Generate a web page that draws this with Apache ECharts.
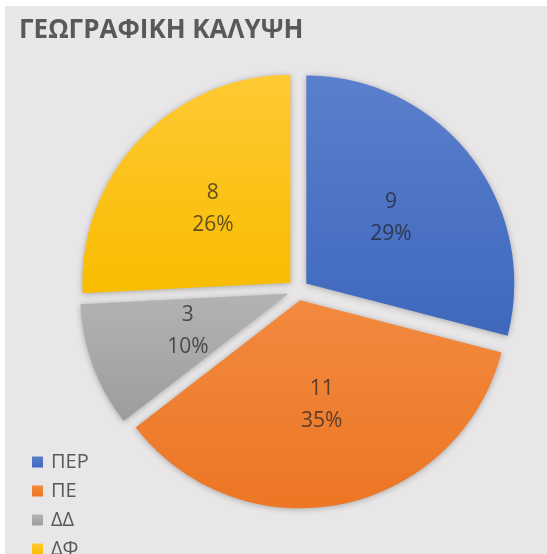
<!DOCTYPE html>
<html>
<head>
<meta charset="utf-8">
<script src="https://cdn.jsdelivr.net/npm/echarts@6/dist/echarts.min.js"></script>
<style>
  html, body { margin: 0; padding: 0; background: #ffffff; width: 547px; height: 554px; overflow: hidden; }
  #chart { position: absolute; left: 5px; top: 6px; width: 542px; height: 548px; }
</style>
</head>
<body>
<div id="chart"></div>
<script>
// Regions covered and number of items per region
const categories = ['ΠΕΡ', 'ΠΕ', 'ΔΔ', 'ΔΦ'];
const values = [9, 11, 3, 8];
const titleText = 'ΓΕΩΓΡΑΦΙΚΗ ΚΑΛΥΨΗ';

// Office-style palette with a soft top-to-bottom shade
const colorsTop = ['#5a7fcc', '#f28a3f', '#b3b3b3', '#ffc933'];
const colorsBottom = ['#3f68bd', '#ec7624', '#9d9d9d', '#f8bc00'];

const FONT = '"Open Sans", "DejaVu Sans", sans-serif';

const chart = echarts.init(document.getElementById('chart'), null, { renderer: 'canvas' });

const pieData = categories.map((name, i) => ({
  name,
  value: values[i],
  selected: true,
  itemStyle: {
    color: new echarts.graphic.LinearGradient(0, 0, 0, 1, [
      { offset: 0, color: colorsTop[i] },
      { offset: 1, color: colorsBottom[i] }
    ])
  }
}));

chart.setOption({
  backgroundColor: '#e8e6e7',
  animation: false,
  color: colorsBottom,
  title: {
    text: titleText,
    left: 9,
    top: 7,
    textStyle: {
      fontFamily: FONT,
      fontWeight: 'bold',
      fontSize: 26,
      color: '#595959'
    }
  },
  legend: {
    orient: 'vertical',
    left: 22,
    top: 441,
    height: 140,
    icon: 'rect',
    itemWidth: 11,
    itemHeight: 11,
    itemGap: 9,
    selectedMode: false,
    data: categories,
    textStyle: {
      fontFamily: FONT,
      fontSize: 20,
      lineHeight: 20,
      color: '#595959',
      padding: [0, 0, 0, 3]
    }
  },
  series: [{
    type: 'pie',
    center: [293, 284],
    radius: [0, 208],
    startAngle: 90,
    clockwise: true,
    selectedMode: 'multiple',
    selectedOffset: 10.5,
    percentPrecision: 0,
    label: {
      show: true,
      position: 'inside',
      formatter: '{c}\n{d}%',
      fontFamily: FONT,
      fontSize: 21,
      lineHeight: 32,
      color: 'rgba(35,35,35,0.72)'
    },
    labelLine: { show: false },
    itemStyle: {
      shadowBlur: 6,
      shadowColor: 'rgba(0,0,0,0.28)',
      shadowOffsetY: 1
    },
    emphasis: { disabled: true },
    data: pieData
  }]
});
</script>
</body>
</html>
